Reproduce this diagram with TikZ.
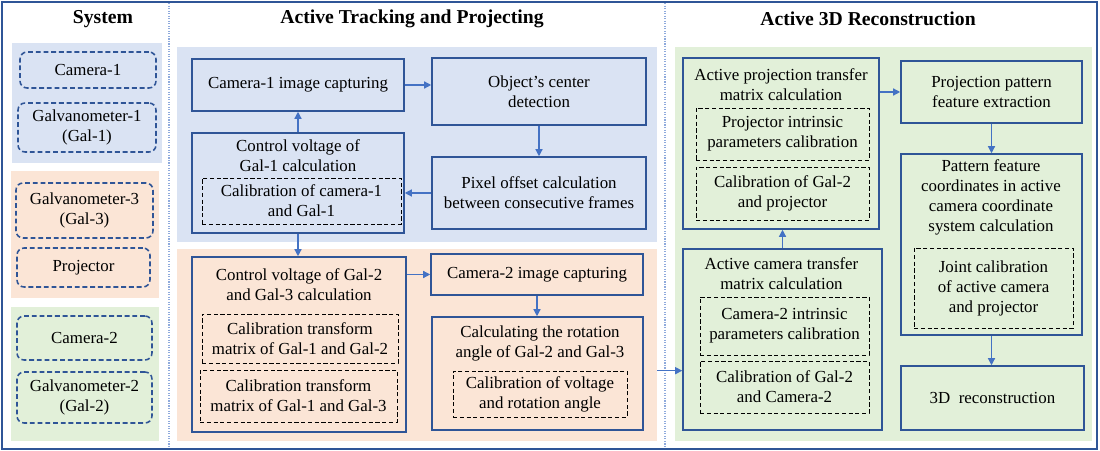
\documentclass[tikz,border=0pt]{standalone}
\usepackage{fontspec}
\setmainfont{Liberation Serif}
\usetikzlibrary{arrows.meta, fit}

\definecolor{frameblue}{HTML}{2F5597}
\definecolor{arrowblue}{HTML}{4472C4}
\definecolor{panelblue}{HTML}{DAE3F3}
\definecolor{panelorange}{HTML}{FBE5D6}
\definecolor{panelgreen}{HTML}{E2F0D9}
\definecolor{divider}{HTML}{8FAADC}

\begin{document}
\begin{tikzpicture}[x=0.025cm, y=-0.025cm,
    txt/.style={font=\fontsize{12}{14.2}\selectfont, align=center, inner sep=0pt},
    inside/.style={label={[txt]center:{#1}}},
    panel/.style={fill=#1, draw=none, inner sep=0pt},
    part/.style={inner sep=0pt, draw=frameblue, line width=1.1pt, dash pattern=on 3.5pt off 2pt, rounded corners=5pt},
    box/.style={inner sep=0pt, draw=frameblue, line width=1.1pt},
    calib/.style={inner sep=0pt, draw=black, line width=0.6pt, dash pattern=on 3pt off 1.8pt},
    head/.style={font=\fontsize{14}{16}\selectfont\bfseries, inner sep=0pt},
    arrow/.style={-{Triangle[length=5pt,width=5pt]}, draw=arrowblue, line width=0.9pt}
  ]
    \useasboundingbox (0,0) rectangle (1100,451);

    % frame and column dividers
    \draw[frameblue, line width=1.8pt] (2,2) rectangle (1097,449);
    \draw[divider, densely dotted, line width=0.8pt] (169,3) -- (169,448);
    \draw[divider, densely dotted, line width=0.8pt] (665,3) -- (665,448);

    \node[head] (syshead) at (103,19) {System};
    \node[head] (trkhead) at (412,19) {Active Tracking and Projecting};
    \node[head] (rechead) at (868,19) {Active 3D Reconstruction};

    % background panels
    \node[panel=panelblue,   fit={(12,43) (162,163)}]   (sysblue) {};
    \node[panel=panelorange, fit={(11,171) (159,298)}]  (sysorange) {};
    \node[panel=panelgreen,  fit={(11,307) (159,441)}]  (sysgreen) {};
    \node[panel=panelblue,   fit={(177,47) (657,242)}]  (trkblue) {};
    \node[panel=panelorange, fit={(177,249) (657,441)}] (trkorange) {};
    \node[panel=panelgreen,  fit={(675,47) (1092,441)}] (recgreen) {};

    % system parts
    \node[part, fit={(20,52) (156,88)},   inside={Camera-1}] (cam1) {};
    \node[part, fit={(18,103) (156,152)}, inside={Galvanometer-1\\(Gal-1)}] (gal1) {};
    \node[part, fit={(16,183) (153,238)}, inside={Galvanometer-3\\(Gal-3)}] (gal3) {};
    \node[part, fit={(17,248) (150,287)}, inside={Projector}] (proj) {};
    \node[part, fit={(17,316) (152,360)}, inside={Camera-2}] (cam2) {};
    \node[part, fit={(17,372) (152,423)}, inside={Galvanometer-2\\(Gal-2)}] (gal2) {};

    % active tracking and projecting
    \node[box, fit={(192,59) (404,111)},  inside={Camera-1 image capturing}] (capone) {};
    \node[box, fit={(432,58) (646,125)},  inside={Object’s center\\detection}] (center) {};
    \node[box, fit={(432,157) (646,229)}, inside={Pixel offset calculation\\between consecutive frames}] (offset) {};
    \node[box, fit={(192,133) (404,233)}] (ctrlone) {};
    \node[txt] (ctrlonet) at (298,156) {Control voltage of\\Gal-1 calculation};
    \node[calib, fit={(202,178) (401,224)}, inside={Calibration of camera-1\\and Gal-1}] (calone) {};

    \node[box, fit={(192,257) (406,432)}] (ctrltwo) {};
    \node[txt] (ctrltwot) at (299,285) {Control voltage of Gal-2\\and Gal-3 calculation};
    \node[calib, fit={(202,314) (398,363)}, inside={Calibration transform\\matrix of Gal-1 and Gal-2}] (caltwo) {};
    \node[calib, fit={(200,370) (397,422)}, inside={Calibration transform\\matrix of Gal-1 and Gal-3}] (calthree) {};
    \node[box, fit={(431,254) (643,295)}, inside={Camera-2 image capturing}] (captwo) {};
    \node[box, fit={(432,317) (643,430)}] (rotang) {};
    \node[txt] (rotangt) at (540,343.5) {Calculating the rotation\\angle of Gal-2 and Gal-3};
    \node[calib, fit={(453,371) (627,417)}, inside={Calibration of voltage\\and rotation angle}] (calvolt) {};

    % active 3D reconstruction
    \node[box, fit={(683,58) (879,229)}] (projmat) {};
    \node[txt] (projmatt) at (781,84.5) {Active projection transfer\\matrix calculation};
    \node[calib, fit={(696,108) (869,160)}, inside={Projector intrinsic\\parameters calibration}] (projint) {};
    \node[calib, fit={(696,167) (869,220)}, inside={Calibration of Gal-2\\and projector}] (galproj) {};

    \node[box, fit={(683,249) (882,430)}] (cammat) {};
    \node[txt] (cammatt) at (781.5,274) {Active camera transfer\\matrix calculation};
    \node[calib, fit={(700,297) (869,355)}, inside={Camera-2 intrinsic\\parameters calibration}] (camint) {};
    \node[calib, fit={(700,361) (869,413)}, inside={Calibration of Gal-2\\and Camera-2}] (galcam) {};

    \node[box, fit={(901,61) (1082,123)}, inside={Projection pattern\\feature extraction}] (feature) {};
    \node[box, fit={(901,154) (1082,335)}] (coords) {};
    \node[txt] (coordst) at (991,197.5) {Pattern feature\\coordinates in active\\camera coordinate\\system calculation};
    \node[calib, fit={(914,248) (1073,328)}, inside={Joint calibration\\of active camera\\and projector}] (joint) {};
    \node[box, fit={(901,366) (1084,430)}, inside={3D\ \ reconstruction}] (recon) {};

    % connectors
    \draw[arrow] (capone.east) -- (capone.east -| center.west);
    \draw[arrow] (center.south) -- (center.south |- offset.north);
    \draw[arrow] (offset.west) -- (offset.west -| ctrlone.east);
    \draw[arrow] (ctrlone.north) -- (ctrlone.north |- capone.south);
    \draw[arrow] (ctrlone.south) -- (ctrlone.south |- ctrltwo.north);
    \draw[arrow] (ctrltwo.east |- captwo.west) -- (captwo.west);
    \draw[arrow] (captwo.south) -- (captwo.south |- rotang.north);
    \draw[arrow] ([yshift=2pt]trkorange.east |- rotang.east) -- ([yshift=2pt]cammat.west |- rotang.east);
    \draw[arrow] (cammat.north) -- (cammat.north |- projmat.south);
    \draw[arrow] (projmat.east |- feature.west) -- (feature.west);
    \draw[arrow] (feature.south) -- (feature.south |- coords.north);
    \draw[arrow] (coords.south) -- (coords.south |- recon.north);
\end{tikzpicture}
\end{document}
